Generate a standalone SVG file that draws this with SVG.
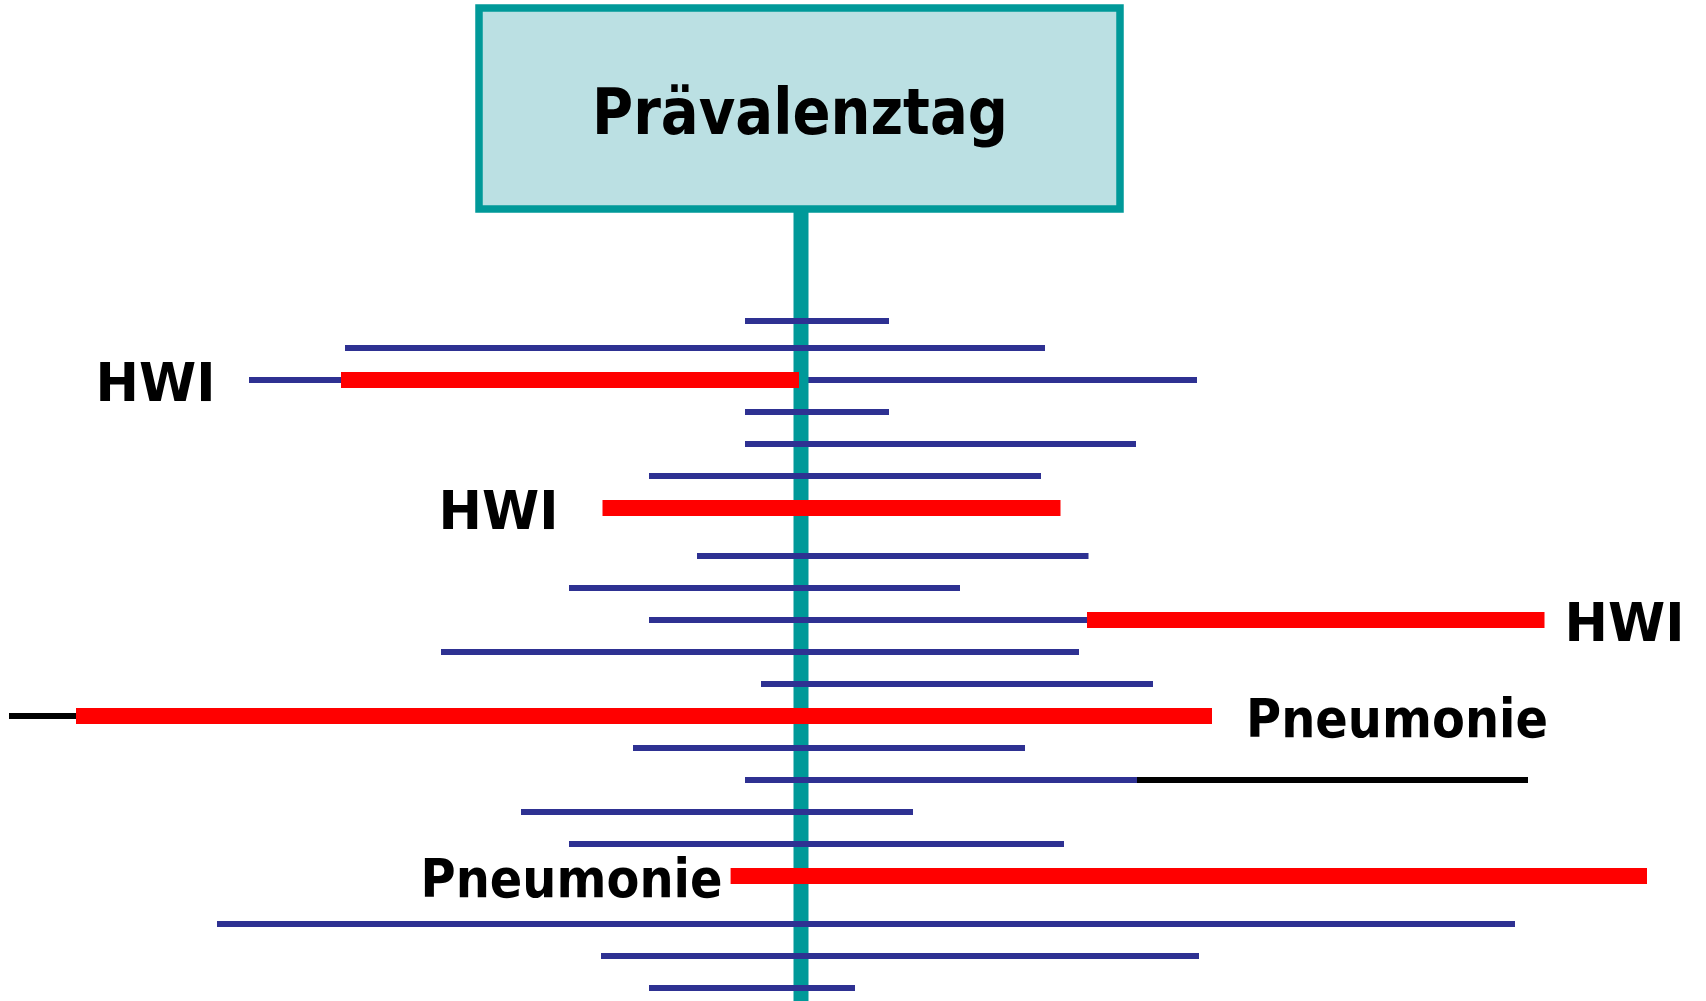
<svg xmlns="http://www.w3.org/2000/svg" width="1706" height="1001" viewBox="0 0 1706 1001">
<style>
.lbl{font-family:"DejaVu Sans","Liberation Sans",sans-serif;font-weight:bold;fill:#000}
.b{stroke:#2E3192;stroke-width:6}
.r{stroke:#FF0000;stroke-width:16}
.k{stroke:#000;stroke-width:6}
.t{stroke:#009999;stroke-width:15}
</style>
<rect width="1706" height="1001" fill="#fff"/>
<g id="connectors">
<line class="b" x1="249" y1="380" x2="1197" y2="380"/>
<line class="t" x1="801" y1="210" x2="801" y2="1001"/>
<line class="b" x1="745" y1="321" x2="889" y2="321"/>
<line class="b" x1="345" y1="348" x2="1045" y2="348"/>
<line class="r" x1="341" y1="380" x2="799" y2="380"/>
<line class="b" x1="745" y1="412" x2="889" y2="412"/>
<line class="b" x1="745" y1="444" x2="1136" y2="444"/>
<line class="b" x1="649" y1="476" x2="1041" y2="476"/>
<line class="r" x1="602.5" y1="508" x2="1060.5" y2="508"/>
<line class="b" x1="697" y1="556" x2="1088.5" y2="556"/>
<line class="b" x1="569" y1="588" x2="960" y2="588"/>
<line class="b" x1="649" y1="620" x2="1087" y2="620"/>
<line class="r" x1="1087" y1="620" x2="1544.5" y2="620"/>
<line class="b" x1="441" y1="652" x2="1079" y2="652"/>
<line class="b" x1="761" y1="684" x2="1153" y2="684"/>
<line class="k" x1="9" y1="716" x2="77" y2="716"/>
<line class="r" x1="76" y1="716" x2="1212" y2="716"/>
<line class="b" x1="633" y1="748" x2="1025" y2="748"/>
<line class="b" x1="745" y1="780" x2="1137" y2="780"/>
<line class="k" x1="1137" y1="780" x2="1528" y2="780"/>
<line class="b" x1="521" y1="812" x2="913" y2="812"/>
<line class="b" x1="569" y1="844" x2="1064" y2="844"/>
<line class="r" x1="730.6" y1="876" x2="1647" y2="876"/>
<line class="b" x1="217" y1="924" x2="1515" y2="924"/>
<line class="b" x1="601" y1="956" x2="1199" y2="956"/>
<line class="b" x1="649" y1="988" x2="855" y2="988"/>
</g>
<g id="praevalenztag">
<rect x="479" y="8" width="641" height="201" fill="#BBE0E3" stroke="#009999" stroke-width="7.5"/>
<text class="lbl" x="592" y="134.3" font-size="64.5" textLength="416" lengthAdjust="spacingAndGlyphs">Prävalenztag</text>
</g>
<g id="label-hwi-1"><text class="lbl" x="95.5" y="401" font-size="54" textLength="120" lengthAdjust="spacingAndGlyphs">HWI</text></g>
<g id="label-hwi-2"><text class="lbl" x="438.5" y="529" font-size="54" textLength="120" lengthAdjust="spacingAndGlyphs">HWI</text></g>
<g id="label-hwi-3"><text class="lbl" x="1564.5" y="640.7" font-size="54" textLength="120" lengthAdjust="spacingAndGlyphs">HWI</text></g>
<g id="label-pneumonie-1"><text class="lbl" x="1246" y="736.7" font-size="52.5" textLength="302" lengthAdjust="spacingAndGlyphs">Pneumonie</text></g>
<g id="label-pneumonie-2"><text class="lbl" x="420.5" y="896.7" font-size="52.5" textLength="302" lengthAdjust="spacingAndGlyphs">Pneumonie</text></g>
</svg>
